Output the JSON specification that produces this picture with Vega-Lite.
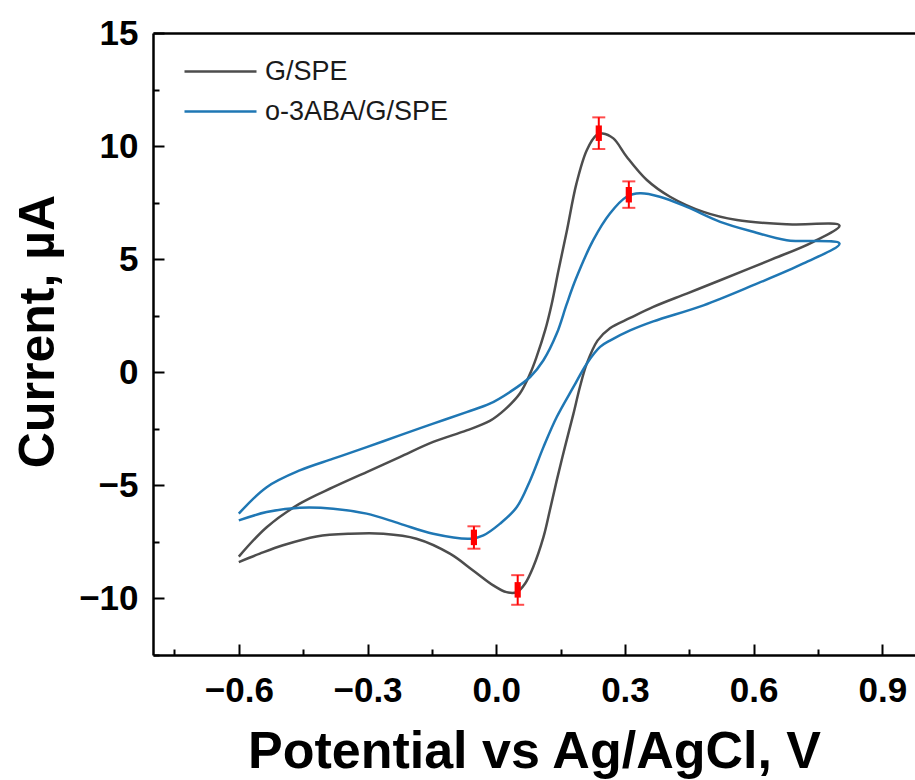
{
  "$schema": "https://vega.github.io/schema/vega-lite/v6.json",
  "width": 762,
  "height": 622,
  "autosize": {"type": "none"},
  "padding": {"left": 153, "top": 33, "right": 0, "bottom": 125},
  "background": "white",
  "config": {
    "view": {"stroke": null},
    "font": "Liberation Sans",
    "axis": {"grid": false, "domainColor": "black", "domainWidth": 2.5, "tickColor": "black", "tickWidth": 2, "labelColor": "black", "titleColor": "black", "labelFont": "Liberation Sans", "titleFont": "Liberation Sans", "labelFontWeight": "bold", "titleFontWeight": "bold", "labelOverlap": false, "labelFlush": false}
  },
  "datasets": {
    "cv": [
      {"series": "G/SPE", "idx": 1, "V": -0.600, "I": -8.15},
      {"series": "G/SPE", "idx": 2, "V": -0.535, "I": -6.85},
      {"series": "G/SPE", "idx": 3, "V": -0.458, "I": -5.81},
      {"series": "G/SPE", "idx": 4, "V": -0.380, "I": -5.08},
      {"series": "G/SPE", "idx": 5, "V": -0.302, "I": -4.41},
      {"series": "G/SPE", "idx": 6, "V": -0.225, "I": -3.75},
      {"series": "G/SPE", "idx": 7, "V": -0.147, "I": -3.08},
      {"series": "G/SPE", "idx": 8, "V": -0.069, "I": -2.57},
      {"series": "G/SPE", "idx": 9, "V": -0.015, "I": -2.15},
      {"series": "G/SPE", "idx": 10, "V": 0.020, "I": -1.65},
      {"series": "G/SPE", "idx": 11, "V": 0.055, "I": -0.94},
      {"series": "G/SPE", "idx": 12, "V": 0.079, "I": -0.06},
      {"series": "G/SPE", "idx": 13, "V": 0.094, "I": 0.68},
      {"series": "G/SPE", "idx": 14, "V": 0.114, "I": 1.86},
      {"series": "G/SPE", "idx": 15, "V": 0.129, "I": 3.00},
      {"series": "G/SPE", "idx": 16, "V": 0.145, "I": 4.50},
      {"series": "G/SPE", "idx": 17, "V": 0.164, "I": 6.20},
      {"series": "G/SPE", "idx": 18, "V": 0.187, "I": 8.35},
      {"series": "G/SPE", "idx": 19, "V": 0.211, "I": 9.82},
      {"series": "G/SPE", "idx": 20, "V": 0.234, "I": 10.49},
      {"series": "G/SPE", "idx": 21, "V": 0.248, "I": 10.56},
      {"series": "G/SPE", "idx": 22, "V": 0.273, "I": 10.34},
      {"series": "G/SPE", "idx": 23, "V": 0.304, "I": 9.53},
      {"series": "G/SPE", "idx": 24, "V": 0.351, "I": 8.50},
      {"series": "G/SPE", "idx": 25, "V": 0.405, "I": 7.76},
      {"series": "G/SPE", "idx": 26, "V": 0.483, "I": 7.09},
      {"series": "G/SPE", "idx": 27, "V": 0.561, "I": 6.73},
      {"series": "G/SPE", "idx": 28, "V": 0.677, "I": 6.54},
      {"series": "G/SPE", "idx": 29, "V": 0.800, "I": 6.49},
      {"series": "G/SPE", "idx": 30, "V": 0.739, "I": 5.77},
      {"series": "G/SPE", "idx": 31, "V": 0.638, "I": 4.96},
      {"series": "G/SPE", "idx": 32, "V": 0.522, "I": 4.07},
      {"series": "G/SPE", "idx": 33, "V": 0.444, "I": 3.48},
      {"series": "G/SPE", "idx": 34, "V": 0.366, "I": 2.89},
      {"series": "G/SPE", "idx": 35, "V": 0.312, "I": 2.40},
      {"series": "G/SPE", "idx": 36, "V": 0.265, "I": 1.95},
      {"series": "G/SPE", "idx": 37, "V": 0.236, "I": 1.40},
      {"series": "G/SPE", "idx": 38, "V": 0.211, "I": 0.38},
      {"series": "G/SPE", "idx": 39, "V": 0.195, "I": -0.65},
      {"series": "G/SPE", "idx": 40, "V": 0.180, "I": -1.83},
      {"series": "G/SPE", "idx": 41, "V": 0.160, "I": -3.31},
      {"series": "G/SPE", "idx": 42, "V": 0.141, "I": -4.78},
      {"series": "G/SPE", "idx": 43, "V": 0.125, "I": -6.10},
      {"series": "G/SPE", "idx": 44, "V": 0.110, "I": -7.29},
      {"series": "G/SPE", "idx": 45, "V": 0.086, "I": -8.62},
      {"series": "G/SPE", "idx": 46, "V": 0.067, "I": -9.35},
      {"series": "G/SPE", "idx": 47, "V": 0.048, "I": -9.72},
      {"series": "G/SPE", "idx": 48, "V": 0.024, "I": -9.72},
      {"series": "G/SPE", "idx": 49, "V": -0.007, "I": -9.42},
      {"series": "G/SPE", "idx": 50, "V": -0.054, "I": -8.76},
      {"series": "G/SPE", "idx": 51, "V": -0.108, "I": -8.02},
      {"series": "G/SPE", "idx": 52, "V": -0.186, "I": -7.36},
      {"series": "G/SPE", "idx": 53, "V": -0.263, "I": -7.14},
      {"series": "G/SPE", "idx": 54, "V": -0.341, "I": -7.14},
      {"series": "G/SPE", "idx": 55, "V": -0.419, "I": -7.26},
      {"series": "G/SPE", "idx": 56, "V": -0.497, "I": -7.65},
      {"series": "G/SPE", "idx": 57, "V": -0.551, "I": -8.02},
      {"series": "G/SPE", "idx": 58, "V": -0.600, "I": -8.39},
      {"series": "o-3ABA/G/SPE", "idx": 1, "V": -0.600, "I": -6.25},
      {"series": "o-3ABA/G/SPE", "idx": 2, "V": -0.535, "I": -5.08},
      {"series": "o-3ABA/G/SPE", "idx": 3, "V": -0.458, "I": -4.34},
      {"series": "o-3ABA/G/SPE", "idx": 4, "V": -0.380, "I": -3.82},
      {"series": "o-3ABA/G/SPE", "idx": 5, "V": -0.302, "I": -3.31},
      {"series": "o-3ABA/G/SPE", "idx": 6, "V": -0.225, "I": -2.79},
      {"series": "o-3ABA/G/SPE", "idx": 7, "V": -0.147, "I": -2.27},
      {"series": "o-3ABA/G/SPE", "idx": 8, "V": -0.069, "I": -1.76},
      {"series": "o-3ABA/G/SPE", "idx": 9, "V": -0.015, "I": -1.39},
      {"series": "o-3ABA/G/SPE", "idx": 10, "V": 0.032, "I": -0.87},
      {"series": "o-3ABA/G/SPE", "idx": 11, "V": 0.079, "I": -0.21},
      {"series": "o-3ABA/G/SPE", "idx": 12, "V": 0.110, "I": 0.53},
      {"series": "o-3ABA/G/SPE", "idx": 13, "V": 0.141, "I": 1.71},
      {"series": "o-3ABA/G/SPE", "idx": 14, "V": 0.164, "I": 3.00},
      {"series": "o-3ABA/G/SPE", "idx": 15, "V": 0.185, "I": 4.10},
      {"series": "o-3ABA/G/SPE", "idx": 16, "V": 0.226, "I": 5.84},
      {"series": "o-3ABA/G/SPE", "idx": 17, "V": 0.265, "I": 7.02},
      {"series": "o-3ABA/G/SPE", "idx": 18, "V": 0.304, "I": 7.76},
      {"series": "o-3ABA/G/SPE", "idx": 19, "V": 0.335, "I": 7.91},
      {"series": "o-3ABA/G/SPE", "idx": 20, "V": 0.381, "I": 7.76},
      {"series": "o-3ABA/G/SPE", "idx": 21, "V": 0.444, "I": 7.31},
      {"series": "o-3ABA/G/SPE", "idx": 22, "V": 0.522, "I": 6.65},
      {"series": "o-3ABA/G/SPE", "idx": 23, "V": 0.599, "I": 6.21},
      {"series": "o-3ABA/G/SPE", "idx": 24, "V": 0.677, "I": 5.84},
      {"series": "o-3ABA/G/SPE", "idx": 25, "V": 0.800, "I": 5.69},
      {"series": "o-3ABA/G/SPE", "idx": 26, "V": 0.716, "I": 4.81},
      {"series": "o-3ABA/G/SPE", "idx": 27, "V": 0.599, "I": 3.85},
      {"series": "o-3ABA/G/SPE", "idx": 28, "V": 0.483, "I": 2.96},
      {"series": "o-3ABA/G/SPE", "idx": 29, "V": 0.366, "I": 2.25},
      {"series": "o-3ABA/G/SPE", "idx": 30, "V": 0.312, "I": 1.85},
      {"series": "o-3ABA/G/SPE", "idx": 31, "V": 0.265, "I": 1.40},
      {"series": "o-3ABA/G/SPE", "idx": 32, "V": 0.242, "I": 1.12},
      {"series": "o-3ABA/G/SPE", "idx": 33, "V": 0.211, "I": 0.38},
      {"series": "o-3ABA/G/SPE", "idx": 34, "V": 0.180, "I": -0.65},
      {"series": "o-3ABA/G/SPE", "idx": 35, "V": 0.141, "I": -1.98},
      {"series": "o-3ABA/G/SPE", "idx": 36, "V": 0.110, "I": -3.31},
      {"series": "o-3ABA/G/SPE", "idx": 37, "V": 0.079, "I": -4.78},
      {"series": "o-3ABA/G/SPE", "idx": 38, "V": 0.048, "I": -5.96},
      {"series": "o-3ABA/G/SPE", "idx": 39, "V": 0.009, "I": -6.69},
      {"series": "o-3ABA/G/SPE", "idx": 40, "V": -0.030, "I": -7.21},
      {"series": "o-3ABA/G/SPE", "idx": 41, "V": -0.060, "I": -7.36},
      {"series": "o-3ABA/G/SPE", "idx": 42, "V": -0.147, "I": -7.14},
      {"series": "o-3ABA/G/SPE", "idx": 43, "V": -0.225, "I": -6.69},
      {"series": "o-3ABA/G/SPE", "idx": 44, "V": -0.302, "I": -6.25},
      {"series": "o-3ABA/G/SPE", "idx": 45, "V": -0.380, "I": -6.03},
      {"series": "o-3ABA/G/SPE", "idx": 46, "V": -0.458, "I": -5.99},
      {"series": "o-3ABA/G/SPE", "idx": 47, "V": -0.535, "I": -6.18},
      {"series": "o-3ABA/G/SPE", "idx": 48, "V": -0.600, "I": -6.55}
    ],
    "err": [
      {"V": 0.239, "I": 10.57, "lo": 9.87, "hi": 11.27},
      {"V": 0.309, "I": 7.85, "lo": 7.27, "hi": 8.44},
      {"V": 0.050, "I": -9.62, "lo": -10.28, "hi": -8.97},
      {"V": -0.052, "I": -7.30, "lo": -7.80, "hi": -6.81}
    ]
  },
  "resolve": {"axis": {"x": "independent"}},
  "layer": [
    {
      "data": {"name": "cv"},
      "mark": {"type": "line", "strokeWidth": 2.5, "interpolate": "catmull-rom"},
      "encoding": {
        "x": {"field": "V", "type": "quantitative", "scale": {"domain": [-0.8, 0.976], "nice": false, "zero": false},
          "axis": {"orient": "bottom", "values": [-0.75, -0.6, -0.45, -0.3, -0.15, 0.0, 0.15, 0.3, 0.45, 0.6, 0.75, 0.9],
            "labelExpr": "abs(round(datum.value*20)%6)==3 ? '' : format(datum.value, '.1f')",
            "tickSize": {"condition": {"test": "abs(round(datum.value*20)%6)==3", "value": -6}, "value": -11},
            "labelPadding": 29, "labelFontSize": 35, "title": "Potential vs Ag/AgCl, V", "titleFontSize": 52, "titlePadding": 13}},
        "y": {"field": "I", "type": "quantitative", "scale": {"domain": [-12.5, 15], "nice": false, "zero": false},
          "axis": {"values": [-12.5, -10, -7.5, -5, -2.5, 0, 2.5, 5, 7.5, 10, 12.5, 15],
            "labelExpr": "abs(round(datum.value*2)%10)==5 ? '' : format(datum.value, 'd')",
            "tickSize": {"condition": {"test": "abs(round(datum.value*2)%10)==5", "value": -6}, "value": -11},
            "labelPadding": 26, "labelFontSize": 35, "title": "Current, µA", "titleFontSize": 50, "titlePadding": 15, "titleY": 298}},
        "color": {"field": "series", "type": "nominal",
          "scale": {"domain": ["G/SPE", "o-3ABA/G/SPE"], "range": ["#4d4d4d", "#1f77b4"]},
          "legend": {"orient": "none", "legendX": 30, "legendY": 25, "title": null, "symbolType": "M-1,0H5", "symbolSize": 576, "symbolStrokeWidth": 2.5, "symbolFillColor": "transparent", "labelFontSize": 27, "labelFont": "Liberation Sans", "labelColor": "#1a1a1a", "labelOffset": 55, "labelLimit": 0, "padding": 0, "rowPadding": 12}},
        "order": {"field": "idx", "type": "quantitative"}
      }
    },
    {
      "data": {"name": "err"},
      "mark": {"type": "rule", "color": "#ff0000", "strokeWidth": 2},
      "encoding": {
        "x": {"field": "V", "type": "quantitative", "axis": {"orient": "top", "labels": false, "ticks": false, "title": null, "domain": true, "values": []}},
        "y": {"field": "lo", "type": "quantitative"},
        "y2": {"field": "hi"}
      }
    },
    {
      "data": {"name": "err"},
      "mark": {"type": "tick", "color": "#ff0000", "orient": "horizontal", "size": 13, "thickness": 2},
      "encoding": {
        "x": {"field": "V", "type": "quantitative", "axis": null},
        "y": {"field": "lo", "type": "quantitative"}
      }
    },
    {
      "data": {"name": "err"},
      "mark": {"type": "tick", "color": "#ff0000", "orient": "horizontal", "size": 13, "thickness": 2},
      "encoding": {
        "x": {"field": "V", "type": "quantitative", "axis": null},
        "y": {"field": "hi", "type": "quantitative"}
      }
    },
    {
      "data": {"name": "err"},
      "mark": {"type": "point", "filled": true, "color": "#ff0000", "opacity": 1, "shape": "M-0.4,-1H0.4V1H-0.4Z", "size": 240},
      "encoding": {
        "x": {"field": "V", "type": "quantitative", "axis": null},
        "y": {"field": "I", "type": "quantitative"}
      }
    }
  ]
}
